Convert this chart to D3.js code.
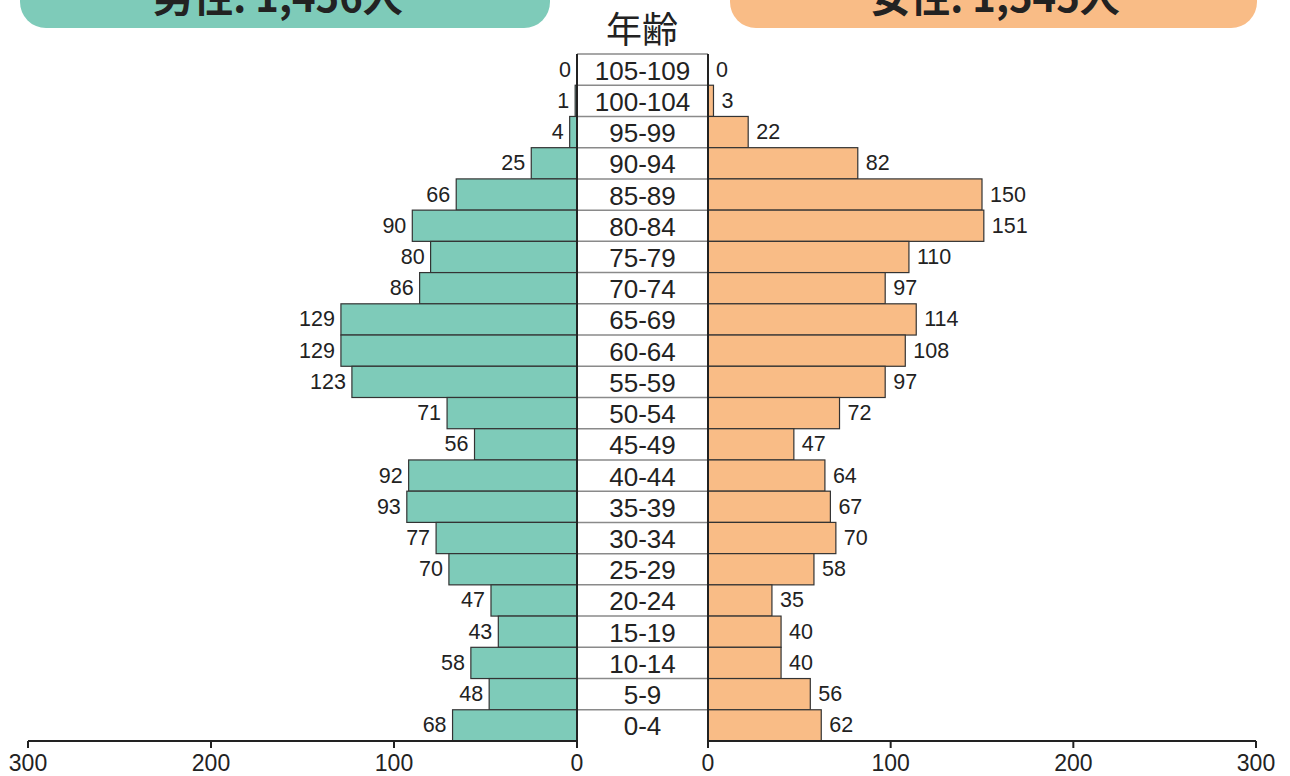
<!DOCTYPE html>
<html>
<head>
<meta charset="utf-8">
<script src="https://cdn.jsdelivr.net/npm/d3@7"></script>
<style>
  body { margin: 0; background: #fff; }
  svg { display: block; font-family: "Liberation Sans", Arial, sans-serif; }
  .val { font-size: 21.5px; fill: #222; }
  .age { font-size: 26px; fill: #222; }
  .tick-label { font-size: 23px; fill: #222; }
</style>
</head>
<body>
<svg width="1290" height="776"></svg>
<script>
// age groups, top to bottom
const ages = ['105-109', '100-104', '95-99', '90-94', '85-89', '80-84', '75-79', '70-74',
    '65-69', '60-64', '55-59', '50-54', '45-49', '40-44', '35-39', '30-34',
    '25-29', '20-24', '15-19', '10-14', '5-9', '0-4'];
const male = [0, 1, 4, 25, 66, 90, 80, 86, 129, 129, 123, 71, 56, 92, 93, 77, 70, 47, 43, 58, 48, 68];
const female = [0, 3, 22, 82, 150, 151, 110, 97, 114, 108, 97, 72, 47, 64, 67, 70, 58, 35, 40, 40, 56, 62];
const axisTicks = [0, 100, 200, 300];
const maleTitle = '男性: 1,456人';
const femaleTitle = '女性: 1,545人';

const svg = d3.select('svg');
const plotTop = 54, plotBottom = 741;
const midL = 577, midR = 708;

const y = d3.scaleBand().domain(ages).range([plotTop, plotBottom]);
const xL = d3.scaleLinear().domain([0, 300]).range([midL, 28]);
const xR = d3.scaleLinear().domain([0, 300]).range([midR, 1256]);

const rows = ages.map((a, i) => ({age: a, m: male[i], f: female[i]}));

// header boxes (top is cut off)
svg.append('rect').attr('x', 20).attr('y', -40).attr('width', 530).attr('height', 68)
    .attr('rx', 26).attr('fill', '#7ecbb9');
svg.append('rect').attr('x', 730).attr('y', -40).attr('width', 527).attr('height', 68)
    .attr('rx', 26).attr('fill', '#f9bc86');
svg.append('text').attr('x', 278).attr('y', 12).attr('text-anchor', 'middle')
    .style('font-family', '"Noto Sans CJK JP", sans-serif').style('font-size', '40px')
    .style('font-weight', 'bold').attr('fill', '#222').text(maleTitle);
svg.append('text').attr('x', 995).attr('y', 12).attr('text-anchor', 'middle')
    .style('font-family', '"Noto Sans CJK JP", sans-serif').style('font-size', '40px')
    .style('font-weight', 'bold').attr('fill', '#222').text(femaleTitle);
svg.append('text').attr('x', 642).attr('y', 43).attr('text-anchor', 'middle')
    .style('font-family', '"Noto Sans CJK JP", sans-serif').style('font-size', '36px')
    .attr('fill', '#222').text('年齢');

// label column grid
svg.selectAll('.grid').data(ages).enter().append('line')
    .attr('class', 'grid')
    .attr('x1', midL).attr('x2', midR)
    .attr('y1', d => y(d)).attr('y2', d => y(d))
    .attr('stroke', '#8a8a8a').attr('stroke-width', 1.5);

// bars
svg.selectAll('.mbar').data(rows).enter().append('rect')
    .attr('class', 'mbar')
    .attr('x', d => xL(d.m)).attr('y', d => y(d.age))
    .attr('width', d => xL(0) - xL(d.m)).attr('height', y.bandwidth())
    .attr('fill', '#7ecbb9').attr('stroke', '#333').attr('stroke-width', 1.2);
svg.selectAll('.fbar').data(rows).enter().append('rect')
    .attr('class', 'fbar')
    .attr('x', xR(0)).attr('y', d => y(d.age))
    .attr('width', d => xR(d.f) - xR(0)).attr('height', y.bandwidth())
    .attr('fill', '#f9bc86').attr('stroke', '#333').attr('stroke-width', 1.2);

// value labels
svg.selectAll('.mval').data(rows).enter().append('text')
    .attr('class', 'val')
    .attr('x', d => xL(d.m) - 6).attr('y', d => y(d.age) + y.bandwidth() / 2 + 7)
    .attr('text-anchor', 'end').text(d => d.m);
svg.selectAll('.fval').data(rows).enter().append('text')
    .attr('class', 'val')
    .attr('x', d => xR(d.f) + 8).attr('y', d => y(d.age) + y.bandwidth() / 2 + 7)
    .text(d => d.f);

// age labels
svg.selectAll('.age').data(ages).enter().append('text')
    .attr('class', 'age')
    .attr('x', (midL + midR) / 2).attr('y', d => y(d) + y.bandwidth() / 2 + 10)
    .attr('text-anchor', 'middle').text(d => d);

// center column verticals
[midL, midR].forEach(x => {
    svg.append('line').attr('x1', x).attr('x2', x).attr('y1', plotTop).attr('y2', plotBottom)
        .attr('stroke', '#222').attr('stroke-width', 2);
});

// axes
function drawAxis(scale) {
    const g = svg.append('g');
    const r = scale.range();
    g.append('line').attr('x1', r[0]).attr('x2', r[1]).attr('y1', plotBottom).attr('y2', plotBottom)
        .attr('stroke', '#222').attr('stroke-width', 2.2);
    g.selectAll('.tk').data(axisTicks).enter().append('line')
        .attr('x1', d => scale(d)).attr('x2', d => scale(d))
        .attr('y1', plotBottom).attr('y2', plotBottom + 7)
        .attr('stroke', '#222').attr('stroke-width', 2);
    g.selectAll('.tl').data(axisTicks).enter().append('text')
        .attr('class', 'tick-label')
        .attr('x', d => scale(d)).attr('y', plotBottom + 30)
        .attr('text-anchor', 'middle').text(d => d);
}
drawAxis(xL);
drawAxis(xR);
</script>
</body>
</html>
